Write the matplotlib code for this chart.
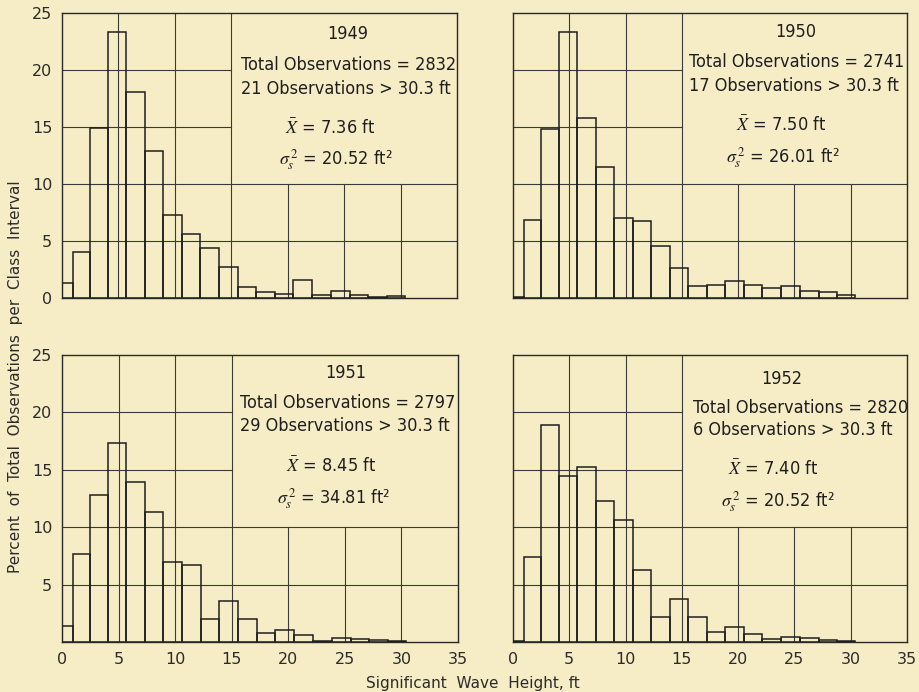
import numpy as np
import matplotlib
matplotlib.use('Agg')
import matplotlib.pyplot as plt

# ---------------- data ----------------
years = [1949, 1950, 1951, 1952]
bin_edges = [0, 0.95, 2.5, 4.1, 5.7, 7.33, 8.97, 10.63, 12.27, 13.92, 15.58,
             17.2, 18.86, 20.5, 22.15, 23.85, 25.5, 27.15, 28.8, 30.4]
pct_1949 = [1.35, 4.04, 14.9, 23.3, 18.07, 12.87, 7.25, 5.58, 4.36, 2.69,
            0.96, 0.53, 0.35, 1.6, 0.29, 0.61, 0.23, 0.05, 0.2]
pct_1950 = [0.1, 6.86, 14.8, 23.3, 15.8, 11.5, 7.03, 6.77, 4.52, 2.65,
            1.02, 1.14, 1.46, 1.14, 0.9, 1.05, 0.61, 0.52, 0.29]
pct_1951 = [1.36, 7.69, 12.8, 17.3, 13.9, 11.3, 6.93, 6.73, 2.0, 3.54,
            2.03, 0.78, 1.07, 0.61, 0.09, 0.32, 0.23, 0.15, 0.09]
pct_1952 = [0.06, 7.41, 18.9, 14.45, 15.26, 12.27, 10.6, 6.3, 2.18, 3.72,
            2.18, 0.87, 1.28, 0.73, 0.23, 0.47, 0.32, 0.2, 0.06]
totals = [2832, 2741, 2797, 2820]
n_over = [21, 17, 29, 6]
means = [7.36, 7.50, 8.45, 7.40]
variances = [20.52, 26.01, 34.81, 20.52]
x_ticks = [0, 5, 10, 15, 20, 25, 30, 35]
y_ticks = [0, 5, 10, 15, 20, 25]

# ---------------- style ----------------
bg = '#f6ecc6'
ink = '#2b2b2b'
plt.rcParams['mathtext.fontset'] = 'stix'
narrow = ['DejaVu Sans']
tickfont = ['DejaVu Sans']

W, H = 920, 692
fig = plt.figure(figsize=(W / 100, H / 100), dpi=100, facecolor=bg)

def px_axes(l, t, r, b):
    return fig.add_axes([l / W, 1 - b / H, (r - l) / W, (b - t) / H])

boxes = {1949: (62, 13, 457, 298), 1950: (513, 13, 907, 298),
         1951: (62, 355, 458, 642), 1952: (513, 355, 907, 642)}
# text layout: (year x, year y, left x of obs lines, y total, y over, x mean, y mean, x var, y var)
txt = {1949: (25.3, 23.2, 15.9, 20.4, 18.3, 19.8, 14.9, 19.2, 12.1),
       1950: (25.1, 23.3, 15.6, 20.7, 18.6, 19.85, 15.1, 18.95, 12.3),
       1951: (25.1, 23.4, 15.7, 20.8, 18.8, 19.8, 15.3, 19.0, 12.5),
       1952: (23.9, 22.9, 16.0, 20.4, 18.5, 19.1, 15.0, 18.5, 12.2)}

series = [pct_1949, pct_1950, pct_1951, pct_1952]
edges = np.array(bin_edges)
widths = np.diff(edges)

for i, yr in enumerate(years):
    ax = px_axes(*boxes[yr])
    ax.set_facecolor(bg)
    ax.set_xlim(0, 35)
    ax.set_ylim(0, 25)
    # grid (partial, leaving the annotation area open)
    gkw = dict(color='#3a3a3a', lw=0.8, zorder=1)
    for x in [5, 10, 15]:
        ax.axvline(x, **gkw)
    for x in [20, 25, 30]:
        ax.axvline(x, ymin=0, ymax=0.4, **gkw)
    for y in [5, 10]:
        ax.axhline(y, **gkw)
    for y in [15, 20]:
        ax.axhline(y, xmin=0, xmax=15 / 35, **gkw)
    ax.bar(edges[:-1], series[i], width=widths, align='edge', fill=False,
           edgecolor='#1e1e1e', linewidth=1.1, zorder=3)
    for s in ax.spines.values():
        s.set_color('#2a2a2a')
        s.set_linewidth(1.0)
    ax.tick_params(length=0, labelsize=11.5, colors=ink, pad=7)
    ax.set_xticks(x_ticks)
    ax.set_yticks(y_ticks)
    if yr in (1951, 1952):
        ax.set_xticklabels([str(v) for v in x_ticks], family=tickfont)
    else:
        ax.set_xticklabels([])
    if yr == 1949:
        ax.set_yticklabels([str(v) for v in y_ticks], family=tickfont)
    elif yr == 1951:
        ax.set_yticklabels([''] + [str(v) for v in y_ticks[1:]], family=tickfont)
    else:
        ax.set_yticklabels([])

    yx, yy, lx, ty, oy, mx, my, vx, vy = txt[yr]
    tkw = dict(family=narrow, fontstretch='condensed', fontsize=13,
               color='#1e1e1e', va='center', zorder=5)
    ax.text(yx, yy, str(yr), ha='center', **tkw)
    ax.text(lx, ty, f'Total Observations = {totals[i]}', ha='left', **tkw)
    ax.text(lx, oy, f'{n_over[i]} Observations > 30.3 ft', ha='left', **tkw)
    ax.text(mx, my, r'$\bar{X}$' + f' = {means[i]:.2f} ft', ha='left', **tkw)
    ax.text(vx, vy, r'$\sigma_s^{\,2}$' + f' = {variances[i]:.2f} ft²', ha='left', **tkw)

fig.text(0.514, 0.013, 'Significant  Wave  Height, ft', ha='center', va='center',
         fontsize=11, color=ink, family=tickfont)
fig.text(0.017, 0.455, 'Percent  of  Total  Observations  per  Class  Interval',
         ha='center', va='center', rotation=90, fontsize=11, color=ink, family=tickfont)

fig.savefig('out.png', dpi=100, facecolor=bg)
